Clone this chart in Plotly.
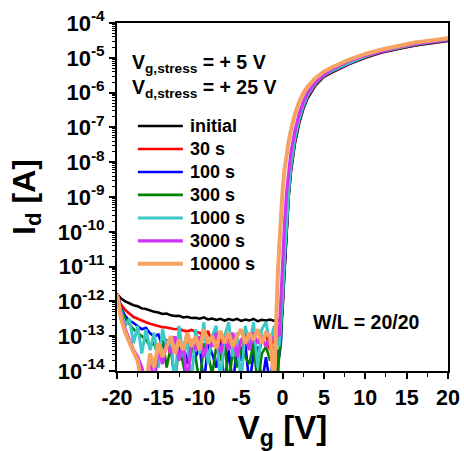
import plotly.graph_objects as go

# ---------------- data ----------------
vg_off = [-20.0, -19.5, -19.0, -18.5, -18.0, -17.5, -17.0, -16.5, -16.0, -15.5,
          -15.0, -14.5, -14.0, -13.5, -13.0, -12.5, -12.0, -11.5, -11.0, -10.5,
          -10.0, -9.5, -9.0, -8.5, -8.0, -7.5, -7.0, -6.5, -6.0, -5.5,
          -5.0, -4.5, -4.0, -3.5, -3.0, -2.5, -2.0, -1.5]
vg_on = [-1.0, -0.8, -0.6, -0.4, -0.2, 0.0, 0.25, 0.5, 0.75, 1.0, 1.5, 2.0, 2.5,
         3.0, 4.0, 5.0, 6.0, 8.0, 10.0, 12.0, 14.0, 16.0, 18.0, 20.0]
vg = vg_off + vg_on

# log10(Id [A]) for each stress time
log_initial = [-11.78, -11.92, -12.0, -12.06, -12.11, -12.14, -12.2, -12.22, -12.27, -12.3,
               -12.32, -12.36, -12.35, -12.4, -12.42, -12.41, -12.46, -12.44, -12.48, -12.47,
               -12.5, -12.46, -12.52, -12.49, -12.53, -12.5, -12.55, -12.51, -12.54, -12.5,
               -12.56, -12.52, -12.55, -12.5, -12.57, -12.53, -12.55, -12.52,
               -12.56, -12.53, -12.55, -12.52, -12.6, -12.3, -11.15, -10.0, -9.0, -8.33, -7.47, -6.9, -6.48,
               -6.18, -5.79, -5.55, -5.42, -5.19, -5.0, -4.85, -4.74, -4.65, -4.58, -4.52]
log_30s = [-11.8, -12.1, -12.25, -12.36, -12.45, -12.5, -12.56, -12.6, -12.64, -12.68,
           -12.7, -12.74, -12.75, -12.78, -12.8, -12.78, -12.84, -12.86, -12.82, -12.88,
           -12.9, -13.05, -12.85, -13.2, -12.9, -13.1, -13.55, -12.95, -13.3, -13.0,
           -13.6, -12.9, -13.2, -13.0, -13.7, -13.1, -12.95, -13.4,
           -13.0, -12.9, -13.1, -12.95, -12.9, -12.2, -11.0, -9.9, -8.94, -8.27, -7.42, -6.86, -6.45,
           -6.15, -5.77, -5.53, -5.41, -5.18, -4.99, -4.84, -4.73, -4.64, -4.57, -4.51]
log_100s = [-11.82, -12.2, -12.42, -12.55, -12.62, -12.72, -12.8, -12.76, -12.92, -13.0,
            -12.95, -13.3, -13.1, -13.5, -13.05, -13.4, -13.2, -13.8, -13.1, -13.6,
            -13.3, -14.4, -13.2, -13.5, -13.9, -13.2, -14.4, -13.4, -14.4, -13.3,
            -13.7, -13.2, -14.4, -13.5, -13.3, -14.4, -13.6, -14.4,
            -13.3, -14.4, -13.4, -13.6, -13.2, -12.1, -10.9, -9.82, -8.9, -8.22, -7.38, -6.83, -6.43,
            -6.13, -5.75, -5.52, -5.4, -5.17, -4.98, -4.83, -4.72, -4.63, -4.56, -4.5]
log_300s = [-11.82, -12.25, -12.5, -12.65, -12.8, -12.9, -13.0, -13.1, -13.3, -13.2,
            -13.6, -13.1, -13.9, -13.3, -14.4, -13.2, -13.8, -14.4, -13.3, -13.6,
            -14.4, -13.2, -13.5, -14.1, -13.3, -13.7, -13.2, -14.4, -13.4, -13.9,
            -13.3, -13.6, -13.8, -13.2, -14.4, -13.5, -13.3, -13.7,
            -13.4, -13.2, -14.4, -13.5, -13.1, -12.0, -10.8, -9.76, -8.86, -8.18, -7.35, -6.8, -6.41,
            -6.11, -5.74, -5.51, -5.39, -5.16, -4.97, -4.82, -4.71, -4.62, -4.55, -4.49]
log_1000s = [-11.8, -12.3, -12.7, -12.5, -13.2, -12.7, -13.5, -12.8, -13.4, -12.9,
             -13.9, -12.8, -13.3, -13.0, -14.4, -12.7, -13.6, -13.1, -14.4, -12.8,
             -13.5, -12.6, -13.8, -13.0, -12.7, -14.4, -13.0, -12.6, -13.6, -12.9,
             -14.4, -12.7, -13.3, -12.6, -13.9, -12.8, -12.6, -13.2,
             -12.7, -13.1, -12.9, -13.3, -12.6, -11.9, -10.7, -9.68, -8.8, -8.12, -7.3, -6.77, -6.38,
             -6.09, -5.72, -5.5, -5.37, -5.15, -4.96, -4.81, -4.7, -4.61, -4.54, -4.48]
log_3000s = [-11.8, -12.4, -12.8, -13.1, -13.4, -13.6, -13.9, -14.4, -13.6, -14.4,
             -13.3, -13.8, -13.2, -13.5, -13.0, -13.7, -13.2, -14.4, -13.1, -13.4,
             -13.0, -13.6, -13.1, -13.3, -12.9, -13.5, -13.0, -13.4, -12.9, -13.6,
             -13.1, -13.0, -13.4, -12.9, -13.2, -13.0, -13.3, -13.0,
             -13.1, -13.2, -12.9, -13.0, -11.85, -10.9, -9.74, -8.85, -8.2, -7.75, -7.1, -6.62, -6.28,
             -6.02, -5.7, -5.49, -5.33, -5.1, -4.93, -4.8, -4.69, -4.6, -4.53, -4.47]
log_10000s = [-11.8, -12.5, -12.9, -13.2, -13.45, -13.7, -14.4, -14.4, -13.5, -13.9,
              -13.2, -13.6, -13.3, -13.0, -13.5, -13.1, -13.4, -12.9, -13.3, -13.0,
              -13.4, -12.8, -13.2, -13.0, -13.35, -12.85, -13.2, -12.9, -13.3, -13.0,
              -12.8, -13.2, -12.9, -13.1, -12.8, -13.2, -12.9, -13.0,
              -14.4, -12.3, -11.4, -10.45, -9.55, -8.85, -8.2, -7.75, -7.4, -7.1, -6.62, -6.28, -6.02,
              -5.84, -5.58, -5.4, -5.27, -5.06, -4.89, -4.76, -4.65, -4.56, -4.5, -4.44]

series_names = ["initial", "30 s", "100 s", "300 s", "1000 s", "3000 s", "10000 s"]
series_logs = [log_initial, log_30s, log_100s, log_300s, log_1000s, log_3000s, log_10000s]
series_colors = ["#000000", "#FF0000", "#0000FF", "#008000", "#3CC8C8", "#D033F5", "#F5A262"]
series_widths = [2.5, 2.6, 2.6, 2.6, 3, 3.2, 4]

y_exps = [-14, -13, -12, -11, -10, -9, -8, -7, -6, -5, -4]
x_ticks = [-20, -15, -10, -5, 0, 5, 10, 15, 20]

FONT = "Arial, Liberation Sans, sans-serif"

fig = go.Figure()
for name, lg, col, w in zip(series_names, series_logs, series_colors, series_widths):
    fig.add_trace(go.Scatter(
        x=vg, y=[10 ** v for v in lg], mode="lines", name=name,
        line=dict(color=col, width=w), showlegend=False))

# custom legend (sample lines + labels)
row_y = [0.704, 0.638, 0.572, 0.506, 0.440, 0.374, 0.308]
for name, col, w, yy in zip(series_names, series_colors, series_widths, row_y):
    fig.add_shape(type="line", xref="paper", yref="paper", x0=0.063, x1=0.199,
                  y0=yy, y1=yy, line=dict(color=col, width=max(w, 2.6)))
    fig.add_annotation(xref="paper", yref="paper", x=0.214, y=yy, text=name,
                       showarrow=False, xanchor="left", yanchor="middle",
                       font=dict(family=FONT, size=18, color="black", weight="bold"))

fig.add_annotation(xref="paper", yref="paper", x=0.04, y=0.885,
                   text="V<sub>g,stress</sub> = + 5 V", showarrow=False,
                   xanchor="left", yanchor="middle",
                   font=dict(family=FONT, size=19.5, color="black", weight="bold"))
fig.add_annotation(xref="paper", yref="paper", x=0.04, y=0.813,
                   text="V<sub>d,stress</sub> = + 25 V", showarrow=False,
                   xanchor="left", yanchor="middle",
                   font=dict(family=FONT, size=19.5, color="black", weight="bold"))
fig.add_annotation(xref="paper", yref="paper", x=0.755, y=0.141,
                   text="W/L = 20/20", showarrow=False,
                   xanchor="center", yanchor="middle",
                   font=dict(family=FONT, size=19.5, color="black", weight="bold"))

fig.update_layout(
    width=464, height=451,
    margin=dict(l=117, r=16, t=23, b=80),
    paper_bgcolor="white", plot_bgcolor="white",
    font=dict(family=FONT, color="black"),
    showlegend=False,
    xaxis=dict(
        range=[-20, 20], tickmode="array", tickvals=x_ticks,
        ticktext=[str(t) for t in x_ticks], automargin=False,
        ticks="outside", ticklen=6, tickwidth=1.5, tickcolor="black",
        showline=True, linecolor="black", linewidth=2, mirror=True,
        showgrid=False, zeroline=False,
        tickfont=dict(family=FONT, size=21.5, color="black", weight="bold"),
        minor=dict(ticks="outside", ticklen=4, tickwidth=1.2, tickcolor="black",
                   dtick=2.5, tick0=0, showgrid=False),
        title=dict(text="V<sub>g</sub> [V]", standoff=17,
                   font=dict(family=FONT, size=33, color="black", weight="bold")),
    ),
    yaxis=dict(
        type="log", range=[-14, -4], tickmode="array",
        tickvals=[10 ** e for e in y_exps], automargin=False,
        ticktext=["10<sup>%d</sup>" % e for e in y_exps],
        ticks="outside", ticklen=6, tickwidth=1.5, tickcolor="black",
        showline=True, linecolor="black", linewidth=2, mirror=True,
        showgrid=False, zeroline=False,
        tickfont=dict(family=FONT, size=22, color="black", weight="bold"),
        minor=dict(ticks="outside", ticklen=3, tickwidth=1, tickcolor="black",
                   dtick="D1", showgrid=False),
        title=dict(text="I<sub>d</sub> [A]", standoff=13,
                   font=dict(family=FONT, size=32, color="black", weight="bold")),
    ),
)

fig.write_html("out.html")
